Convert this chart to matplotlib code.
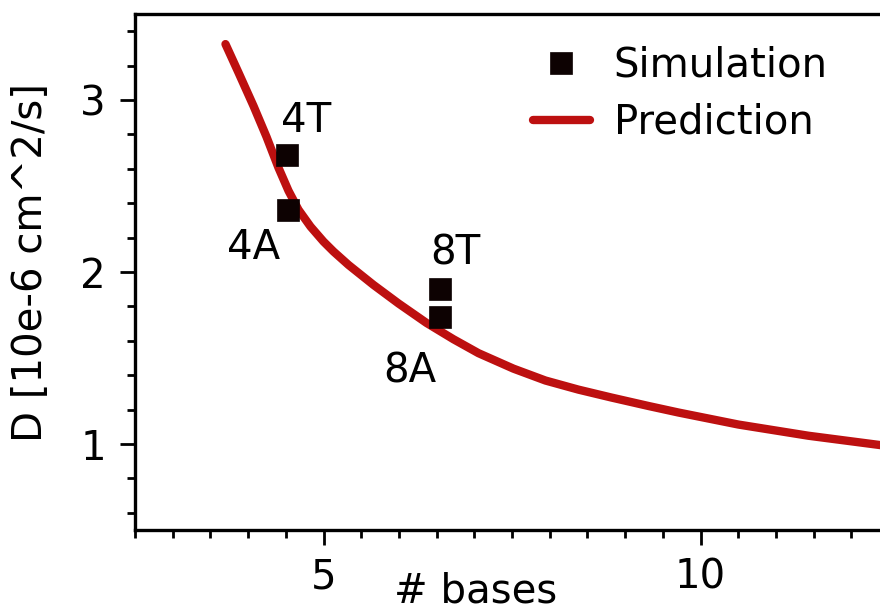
import matplotlib
matplotlib.use("Agg")
import matplotlib.pyplot as plt
from matplotlib.ticker import MultipleLocator

# Simulation data
sim_bases = [4.51, 4.53, 6.55, 6.55]
sim_D = [2.68, 2.36, 1.90, 1.74]
sim_labels = ["4T", "4A", "8T", "8A"]
label_x = [4.77, 4.07, 6.75, 6.14]
label_y = [2.88, 2.14, 2.11, 1.42]

# Prediction curve
pred_bases = [3.700, 3.873, 4.072, 4.244, 4.403, 4.536, 4.668, 4.828, 5.000,
              5.133, 5.332, 5.663, 5.995, 6.366, 6.724, 7.056, 7.520, 7.944,
              8.382, 8.820, 9.310, 9.708, 10.504, 11.432, 12.361, 12.480]
pred_D = [3.325, 3.159, 2.965, 2.786, 2.606, 2.472, 2.362, 2.264, 2.177,
          2.119, 2.041, 1.925, 1.817, 1.704, 1.609, 1.528, 1.438, 1.369,
          1.316, 1.270, 1.221, 1.183, 1.113, 1.048, 0.995, 0.988]

FS = 29
fig = plt.figure(figsize=(8.8, 6.1), dpi=100)
ax = fig.add_axes([135/880, 80/610, 754/880, 516/610])

ax.plot(pred_bases, pred_D, color="#bd1010", lw=6, solid_capstyle="round",
        solid_joinstyle="round", label="Prediction", zorder=2)
ax.plot(sim_bases, sim_D, ls="none", marker="s", ms=16.5, color="#0d0202",
        mec="#0d0202", mew=0.5, label="Simulation", zorder=3)
for x, y, t in zip(label_x, label_y, sim_labels):
    ax.text(x, y, t, fontsize=FS, ha="center", va="center", color="black")

ax.set_xlim(2.5, 12.5)
ax.set_ylim(0.5, 3.5)
ax.xaxis.set_major_locator(MultipleLocator(5))
ax.xaxis.set_minor_locator(MultipleLocator(0.5))
ax.yaxis.set_major_locator(MultipleLocator(1))
ax.yaxis.set_minor_locator(MultipleLocator(0.2))
ax.tick_params(which="major", length=11, width=2, labelsize=FS)
ax.tick_params(which="minor", length=6, width=2)
ax.tick_params(axis="x", which="major", pad=9)
ax.tick_params(axis="y", which="major", pad=10)
for s in ax.spines.values():
    s.set_linewidth(2.4)

ax.set_xlabel("# bases", fontsize=FS)
ax.xaxis.set_label_coords(0.452, -0.08)
ax.set_ylabel("D [10e-6 cm^2/s]", fontsize=FS)
ax.yaxis.set_label_coords(-0.111, 0.519)

h, l = ax.get_legend_handles_labels()
ax.legend([h[1], h[0]], [l[1], l[0]], loc="upper left", bbox_to_anchor=(0.528, 0.938),
          frameon=False, fontsize=FS, borderpad=0, borderaxespad=0,
          handlelength=1.4, handletextpad=0.6, labelspacing=0.42, numpoints=1)

fig.savefig("out.png", dpi=100)
